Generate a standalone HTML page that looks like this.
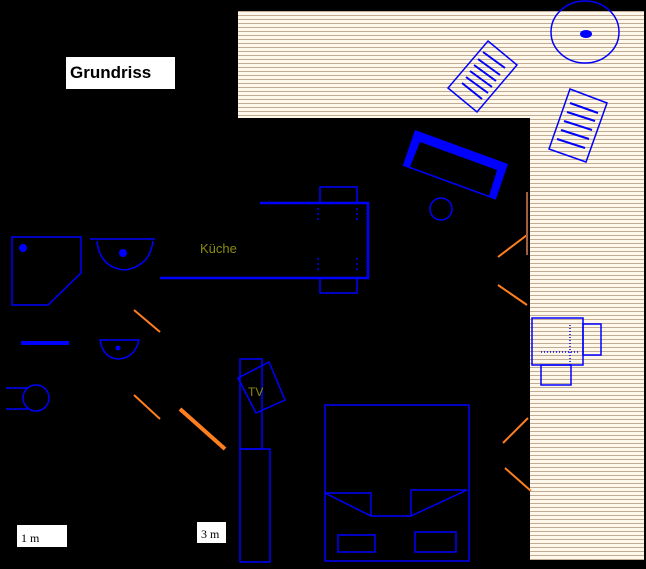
<!DOCTYPE html>
<html><head><style>html,body{margin:0;padding:0;background:#000;}svg{display:block;}</style></head>
<body>
<svg width="646" height="569" viewBox="0 0 646 569" xmlns="http://www.w3.org/2000/svg">
<defs>
<pattern id="st" width="4" height="4" patternUnits="userSpaceOnUse">
<rect width="4" height="4" fill="#fdf8ea"/><rect y="3" width="4" height="1" fill="#c2ab92"/>
</pattern>
</defs>
<rect width="646" height="569" fill="#000"/>
<path d="M238 11 H644 V560 H530 V118 H238 Z" fill="url(#st)"/>
<rect x="66" y="57" width="109" height="32" fill="#fff"/>
<text x="70" y="78" font-family="Liberation Sans, sans-serif" font-weight="bold" font-size="17" fill="#000">Grundriss</text>
<rect x="17" y="525" width="50" height="22" fill="#fff"/>
<text x="21" y="542" font-family="Liberation Serif, serif" font-size="12" fill="#000">1 m</text>
<rect x="197" y="522" width="29" height="21" fill="#fff"/>
<text x="201" y="538" font-family="Liberation Serif, serif" font-size="12" fill="#000">3 m</text>
<!-- sofa -->
<path d="M415 130 L508 164 L496 199 L403 165 Z" fill="#0000ff"/>
<path d="M420 142 L497 170 L489 196 L410 167 Z" fill="#000"/>
<path d="M403 165 L496 199" stroke="#0000ff" stroke-width="1.5"/>
<g fill="none" stroke="#0000ff" stroke-width="1.5">
<path d="M260 203 H368 V278 H160" stroke-width="2.5"/>
<rect x="320" y="187" width="37" height="16"/>
<rect x="320" y="278" width="37" height="15"/>
<path d="M318 208 V220 M357 208 V220 M318 258 V272 M357 258 V272" stroke-dasharray="2 3"/>
<path d="M12 237 H81 V273 L48 305 H12 Z"/>
<path d="M90 239 H155"/>
<path d="M97 241 Q100 268 125 270 Q150 266 153 241"/>
<path d="M100 340 H139 Q135 358 118 359 Q103 358 100 340 Z"/>
<path d="M21 343 H69" stroke-width="4"/>
<circle cx="36" cy="398" r="13"/>
<path d="M6 388 H28 M6 409 H28"/>
<rect x="240" y="359" width="22" height="90"/>
<rect x="240" y="449" width="30" height="113"/>
<path d="M238 378 L269 362 L285 400 L256 413 Z"/>
<circle cx="441" cy="209" r="11"/>
<path d="M488 41 L517 65 L477 112 L448 88 Z"/>
<path d="M483 52 L505 68 M478 59 L500 75 M474 65 L496 81 M470 71 L492 87 M466 77 L488 93 M462 83 L482 99" stroke-width="2"/>
<path d="M570 89 L607 103 L586 162 L549 149 Z"/>
<path d="M570 103 L598 113 M567 112 L595 121 M564 121 L592 130 M561 130 L589 139 M557 139 L585 148" stroke-width="2"/>
<ellipse cx="585" cy="32" rx="34" ry="31"/>
<rect x="532" y="318" width="51" height="47"/>
<rect x="583" y="324" width="18" height="31"/>
<rect x="541" y="365" width="30" height="20"/>
<path d="M541 352 H580 M570 325 V365" stroke-dasharray="1 2"/>
<rect x="325" y="405" width="144" height="156"/>
<path d="M325 493 H371 V516 H411 V490 H467 M325 493 L371 516 M411 516 L467 490"/>
<rect x="338" y="535" width="37" height="17"/>
<rect x="415" y="532" width="41" height="20"/>
</g>
<g fill="#0000ff">
<circle cx="23" cy="248" r="4"/>
<circle cx="123" cy="253" r="4"/>
<circle cx="118" cy="348" r="2.5"/>
<ellipse cx="586" cy="34" rx="6" ry="4"/>
</g>
<g stroke="#ff7f1f" stroke-width="2" fill="none">
<path d="M134 310 L160 332 M134 395 L160 419"/>
<path d="M180 409 L225 449" stroke-width="4"/>
<path d="M498 257 L527 235 M498 285 L527 305 M503 443 L528 418 M505 468 L531 491"/>
</g>
<path d="M527 192 V255" stroke="#a06040" stroke-width="2"/>
<text x="200" y="253" font-family="Liberation Sans, sans-serif" font-size="13" fill="#8a8a10">Küche</text>
<text x="248" y="396" font-family="Liberation Sans, sans-serif" font-size="12" fill="#8a8a10">TV</text>
</svg>
</body></html>
